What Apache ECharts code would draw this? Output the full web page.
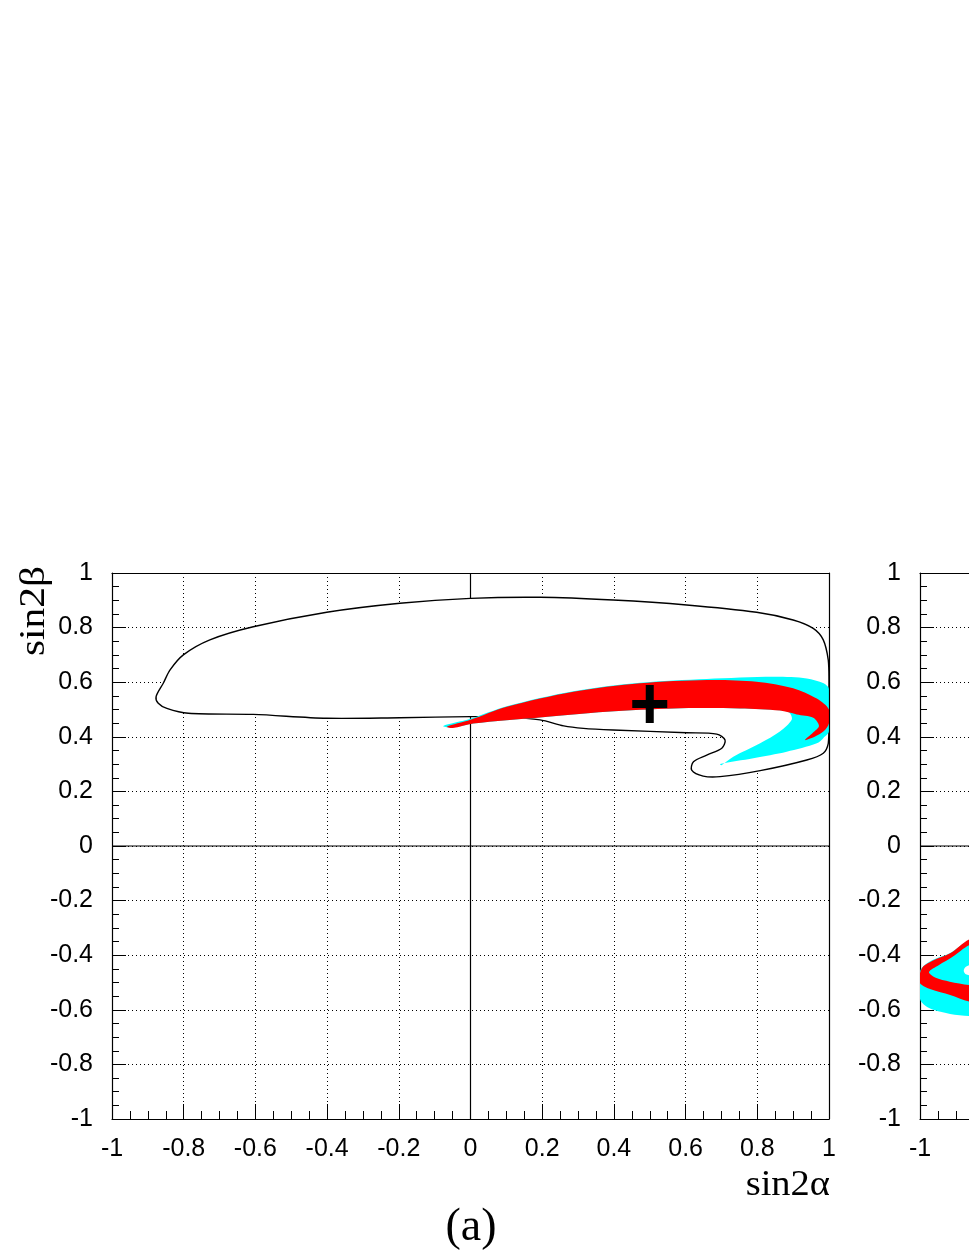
<!DOCTYPE html>
<html><head><meta charset="utf-8">
<script src="https://cdn.jsdelivr.net/npm/echarts@6/dist/echarts.min.js"></script>
<style>html,body{margin:0;padding:0;background:#fff}#c{width:969px;height:1254px}</style>
</head><body><div id="c"></div>
<script>
// ---- data (x = sin2alpha, y = sin2beta) ----
const axisTicks = [-1, -0.8, -0.6, -0.4, -0.2, 0, 0.2, 0.4, 0.6, 0.8, 1];

// panel (a): outer black contour (white filled)
const contourA = [
  [0.00,0.907],[0.194,0.911],[0.398,0.901],[0.603,0.883],[0.798,0.856],[0.900,0.828],
  [0.956,0.797],[0.984,0.755],[0.998,0.681],[1.0,0.608],[1.0,0.45],[0.998,0.376],
  [0.984,0.340],[0.938,0.315],[0.808,0.276],[0.696,0.254],[0.649,0.256],[0.617,0.278],
  [0.622,0.309],[0.659,0.333],[0.701,0.358],[0.710,0.388],[0.687,0.410],[0.603,0.415],
  [0.398,0.425],[0.315,0.431],[0.260,0.440],[0.194,0.462],[0.10,0.472],[0.0,0.474],
  [-0.197,0.470],[-0.401,0.468],[-0.606,0.482],[-0.787,0.486],[-0.847,0.504],
  [-0.871,0.523],[-0.877,0.547],[-0.857,0.596],[-0.838,0.645],[-0.801,0.70],
  [-0.727,0.755],[-0.606,0.803],[-0.401,0.856],[-0.197,0.889]
];
// panel (a): cyan region
const cyanA = [
  [-0.076,0.440],[0.0,0.466],[0.101,0.512],[0.287,0.567],[0.473,0.598],[0.659,0.612],
  [0.845,0.620],[0.938,0.614],[0.985,0.596],[1.0,0.575],[1.0,0.42],[0.984,0.395],
  [0.966,0.376],[0.882,0.345],[0.789,0.321],[0.696,0.300],[0.700,0.296],[0.733,0.327],
  [0.808,0.376],[0.863,0.419],[0.896,0.462],[0.891,0.486],[0.873,0.496],[0.752,0.504],
  [0.566,0.504],[0.380,0.492],[0.194,0.471],[0.008,0.449],[-0.05,0.434]
];
// panel (a): red region
const redA = [
  [-0.066,0.437],[0.0,0.462],[0.101,0.510],[0.287,0.565],[0.473,0.596],[0.659,0.608],
  [0.798,0.602],[0.900,0.578],[0.966,0.540],[1.0,0.50],[1.0,0.45],[0.985,0.42],
  [0.960,0.400],[0.933,0.388],[0.955,0.415],[0.972,0.440],[0.956,0.470],[0.910,0.482],
  [0.863,0.496],[0.752,0.504],[0.566,0.504],[0.380,0.492],[0.194,0.471],[0.008,0.449],
  [-0.05,0.432]
];
// panel (a): central value
const markerA = [[0.5, 0.52]];

// panel (b): cyan, white hole, red
const cyanB = [
  [-0.70,-0.30],[-0.80,-0.318],[-0.863,-0.345],[-0.916,-0.392],[-0.965,-0.418],[-0.99,-0.44],[-1.0,-0.46],
  [-1.0,-0.56],[-0.985,-0.585],[-0.963,-0.600],[-0.916,-0.615],[-0.863,-0.623],[-0.80,-0.628],[-0.70,-0.63]
];
const holeB = [
  [-0.70,-0.415],[-0.80,-0.425],[-0.85,-0.432],[-0.872,-0.442],[-0.878,-0.457],[-0.872,-0.470],
  [-0.85,-0.476],[-0.80,-0.482],[-0.70,-0.49]
];
const redB = [
  [-0.70,-0.29],[-0.80,-0.315],[-0.863,-0.342],[-0.916,-0.393],[-0.965,-0.420],[-0.99,-0.440],[-1.0,-0.466],
  [-1.0,-0.503],[-0.97,-0.525],[-0.916,-0.546],[-0.863,-0.570],[-0.80,-0.585],[-0.70,-0.595],
  [-0.70,-0.52],[-0.80,-0.515],[-0.863,-0.509],[-0.917,-0.497],[-0.958,-0.482],[-0.975,-0.462],
  [-0.948,-0.437],[-0.908,-0.405],[-0.863,-0.363],[-0.80,-0.338],[-0.70,-0.31]
];

// zero lines
const vZero = [[0,-1],[0,1]];
const hZero = [[-1,0],[1,0]];

// ---- chart ----
const chart = echarts.init(document.getElementById('c'), null, {renderer:'canvas'});
const lo = axisTicks[0], hi = axisTicks[axisTicks.length-1];

function polySeries(idx, pts, fill, stroke, z, smooth) {
  return {
    type:'custom', xAxisIndex:idx, yAxisIndex:idx, z:z, silent:true,
    data:[pts[0]],
    renderItem: function (params, api) {
      const c = pts.map(p => api.coord(p));
      const tl = api.coord([lo, hi]), br = api.coord([hi, lo]);
      return {
        type:'polygon',
        shape:{points:c, smooth:smooth, smoothConstraint:[tl, br]},
        style:{fill:fill, stroke:stroke || null, lineWidth: stroke ? 1.4 : 0}
      };
    }
  };
}
function lineSeries(idx, pts) {
  return {type:'line', xAxisIndex:idx, yAxisIndex:idx, data:pts, symbol:'none', z:1, silent:true,
    lineStyle:{color:'#000', width:1.2}};
}
function xAx(idx) {
  return {gridIndex:idx, type:'value', min:lo, max:hi, interval:0.2, position:'bottom',
    axisLine:{show:true, onZero:false, lineStyle:{color:'#000', width:1.2}},
    axisTick:{show:true, inside:true, length:15, lineStyle:{color:'#000', width:1}},
    minorTick:{show:true, splitNumber:4, length:8, lineStyle:{color:'#000', width:1}},
    splitLine:{show:true, lineStyle:{color:'#000', width:1, type:[1,3]}},
    axisLabel:{color:'#000', fontFamily:'Liberation Sans', fontSize:25, margin:18}};
}
function yAx(idx) {
  return {gridIndex:idx, type:'value', min:lo, max:hi, interval:0.2, position:'left',
    axisLine:{show:true, onZero:false, lineStyle:{color:'#000', width:1.2}},
    axisTick:{show:true, inside:true, length:14, lineStyle:{color:'#000', width:1}},
    minorTick:{show:true, splitNumber:4, length:7, lineStyle:{color:'#000', width:1}},
    splitLine:{show:true, lineStyle:{color:'#000', width:1, type:[1,3]}},
    axisLabel:{color:'#000', fontFamily:'Liberation Sans', fontSize:25, margin:19}};
}
function boxAx(idx, pos) {
  return {gridIndex:idx, type:'value', min:lo, max:hi, position:pos, z:10,
    axisLine:{show:true, onZero:false, lineStyle:{color:'#000', width:1.2}},
    axisTick:{show:false}, axisLabel:{show:false}, splitLine:{show:false}};
}

chart.setOption({
  animation:false,
  backgroundColor:'#fff',
  grid:[
    {left:112, top:573, width:717, height:546, show:false, outerBoundsMode:'none', containLabel:false},
    {left:920, top:573, width:717, height:546, show:false, outerBoundsMode:'none', containLabel:false}
  ],
  xAxis:[xAx(0), xAx(1), boxAx(0,'top'), boxAx(1,'top')],
  yAxis:[yAx(0), yAx(1), boxAx(0,'right'), boxAx(1,'right')],
  series:[
    lineSeries(0, vZero), lineSeries(0, hZero),
    lineSeries(1, vZero), lineSeries(1, hZero),
    polySeries(0, contourA, '#fff', '#000', 3, 0.3),
    polySeries(0, cyanA, '#00ffff', null, 4, 0.3),
    polySeries(0, redA, '#ff0000', null, 5, 0.3),
    polySeries(1, cyanB, '#00ffff', null, 4, 0.3),
    polySeries(1, redB, '#ff0000', null, 5, 0.3),
    polySeries(1, holeB, '#fff', null, 6, 0.3),
    {type:'scatter', xAxisIndex:0, yAxisIndex:0, data:markerA, z:7, silent:true,
     symbol:'path://M13.5,0h8v15h13.5v8h-13.5v15h-8v-15h-13.5v-8h13.5z',
     symbolSize:[35,38], symbolKeepAspect:false, itemStyle:{color:'#000', opacity:1}}
  ],
  graphic:[
    {type:'text', x:35, y:566, rotation:Math.PI/2, scaleX:1.15, z:20,
     style:{text:'sin2β', font:'36px "Liberation Serif"', fill:'#000', textAlign:'right', textVerticalAlign:'middle'}},
    {type:'text', x:830, y:1186, scaleX:1.1, z:20,
     style:{text:'sin2α', font:'35px "Liberation Serif"', fill:'#000', textAlign:'right', textVerticalAlign:'middle'}},
    {type:'text', x:471, y:1228, z:20,
     style:{text:'(a)', font:'46px "Liberation Serif"', fill:'#000', textAlign:'center', textVerticalAlign:'middle'}}
  ]
});
</script>
</body></html>
